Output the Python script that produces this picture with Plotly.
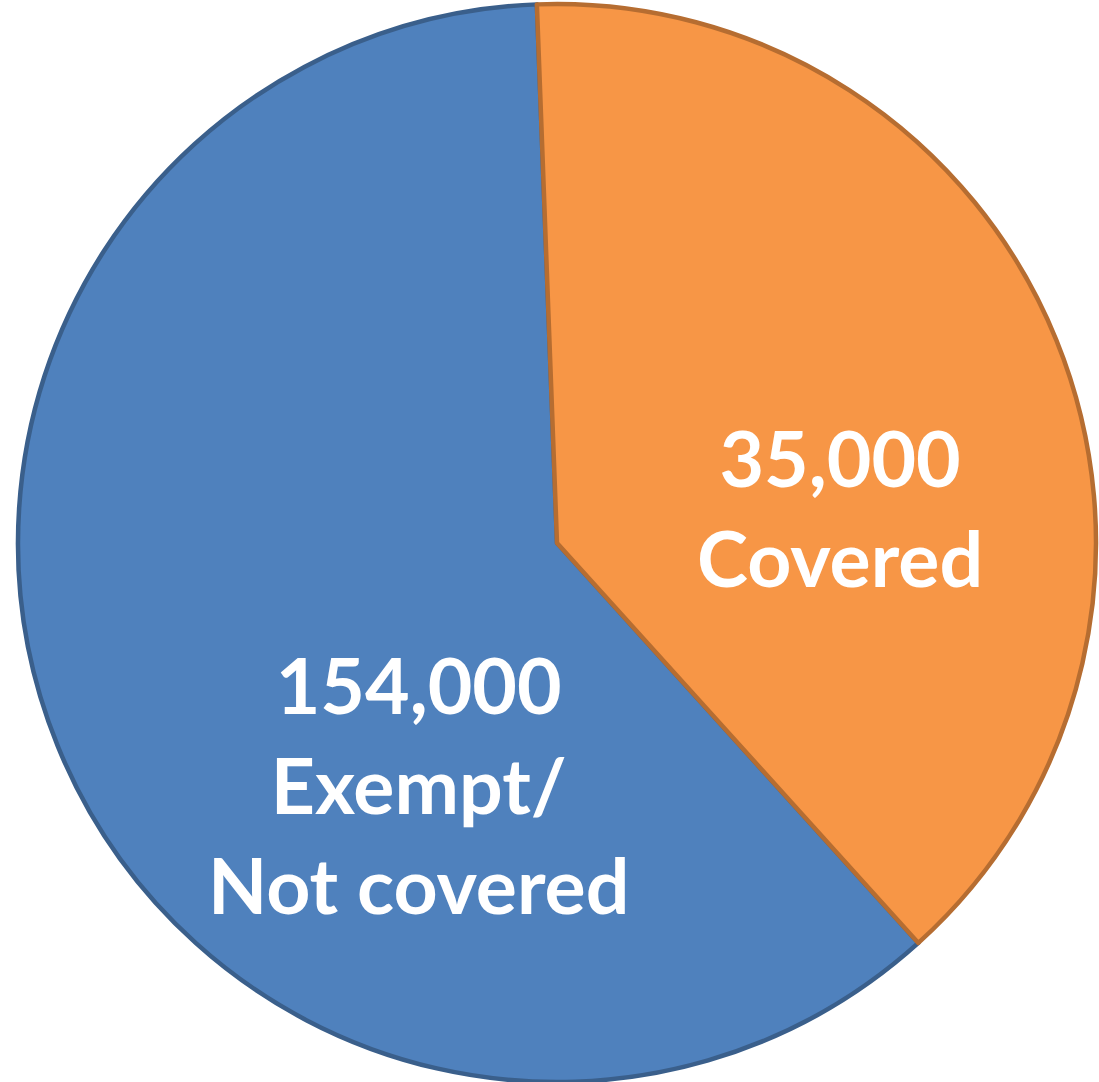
import plotly.graph_objects as go

# Data
categories = ["Exempt/Not covered", "Covered"]
value_labels = ["154,000", "35,000"]
label_texts = ["Exempt/<br>Not covered", "Covered"]
slice_shares = [61.1, 38.9]  # share of the circle each slice occupies in the drawing

fill_colors = ["#4F81BD", "#F79646"]
line_colors = ["#3A5F8B", "#B66D31"]

W, H = 1099, 1082
cx, cy, r = 557, 543, 539

dom_y0 = max(0.0, 1 - (cy + r) / H)
dom_y1 = min(1.0, 1 - (cy - r) / H)

fig = go.Figure(
    go.Pie(
        labels=categories,
        values=slice_shares,
        sort=False,
        direction="clockwise",
        rotation=137.9,
        textinfo="none",
        hoverinfo="label",
        marker=dict(colors=fill_colors, line=dict(color=line_colors, width=4.5)),
        domain=dict(x=[(cx - r) / W, (cx + r) / W], y=[dom_y0, dom_y1]),
        showlegend=False,
    )
)

text_pos = [(418, 784), (840, 507)]
for v, t, (px, py) in zip(value_labels, label_texts, text_pos):
    fig.add_annotation(
        x=px / W, y=1 - py / H, xref="paper", yref="paper",
        text=f"<b>{v}<br>{t}</b>", showarrow=False,
        font=dict(family="Lato", size=77, color="white"),
        align="center", xanchor="center", yanchor="middle",
    )

fig.update_layout(
    width=W, height=H,
    margin=dict(l=0, r=0, t=0, b=0),
    paper_bgcolor="white", plot_bgcolor="white",
)

fig.write_html("out.html", config={"displayModeBar": False},
               post_script="document.body.style.margin='0';")
